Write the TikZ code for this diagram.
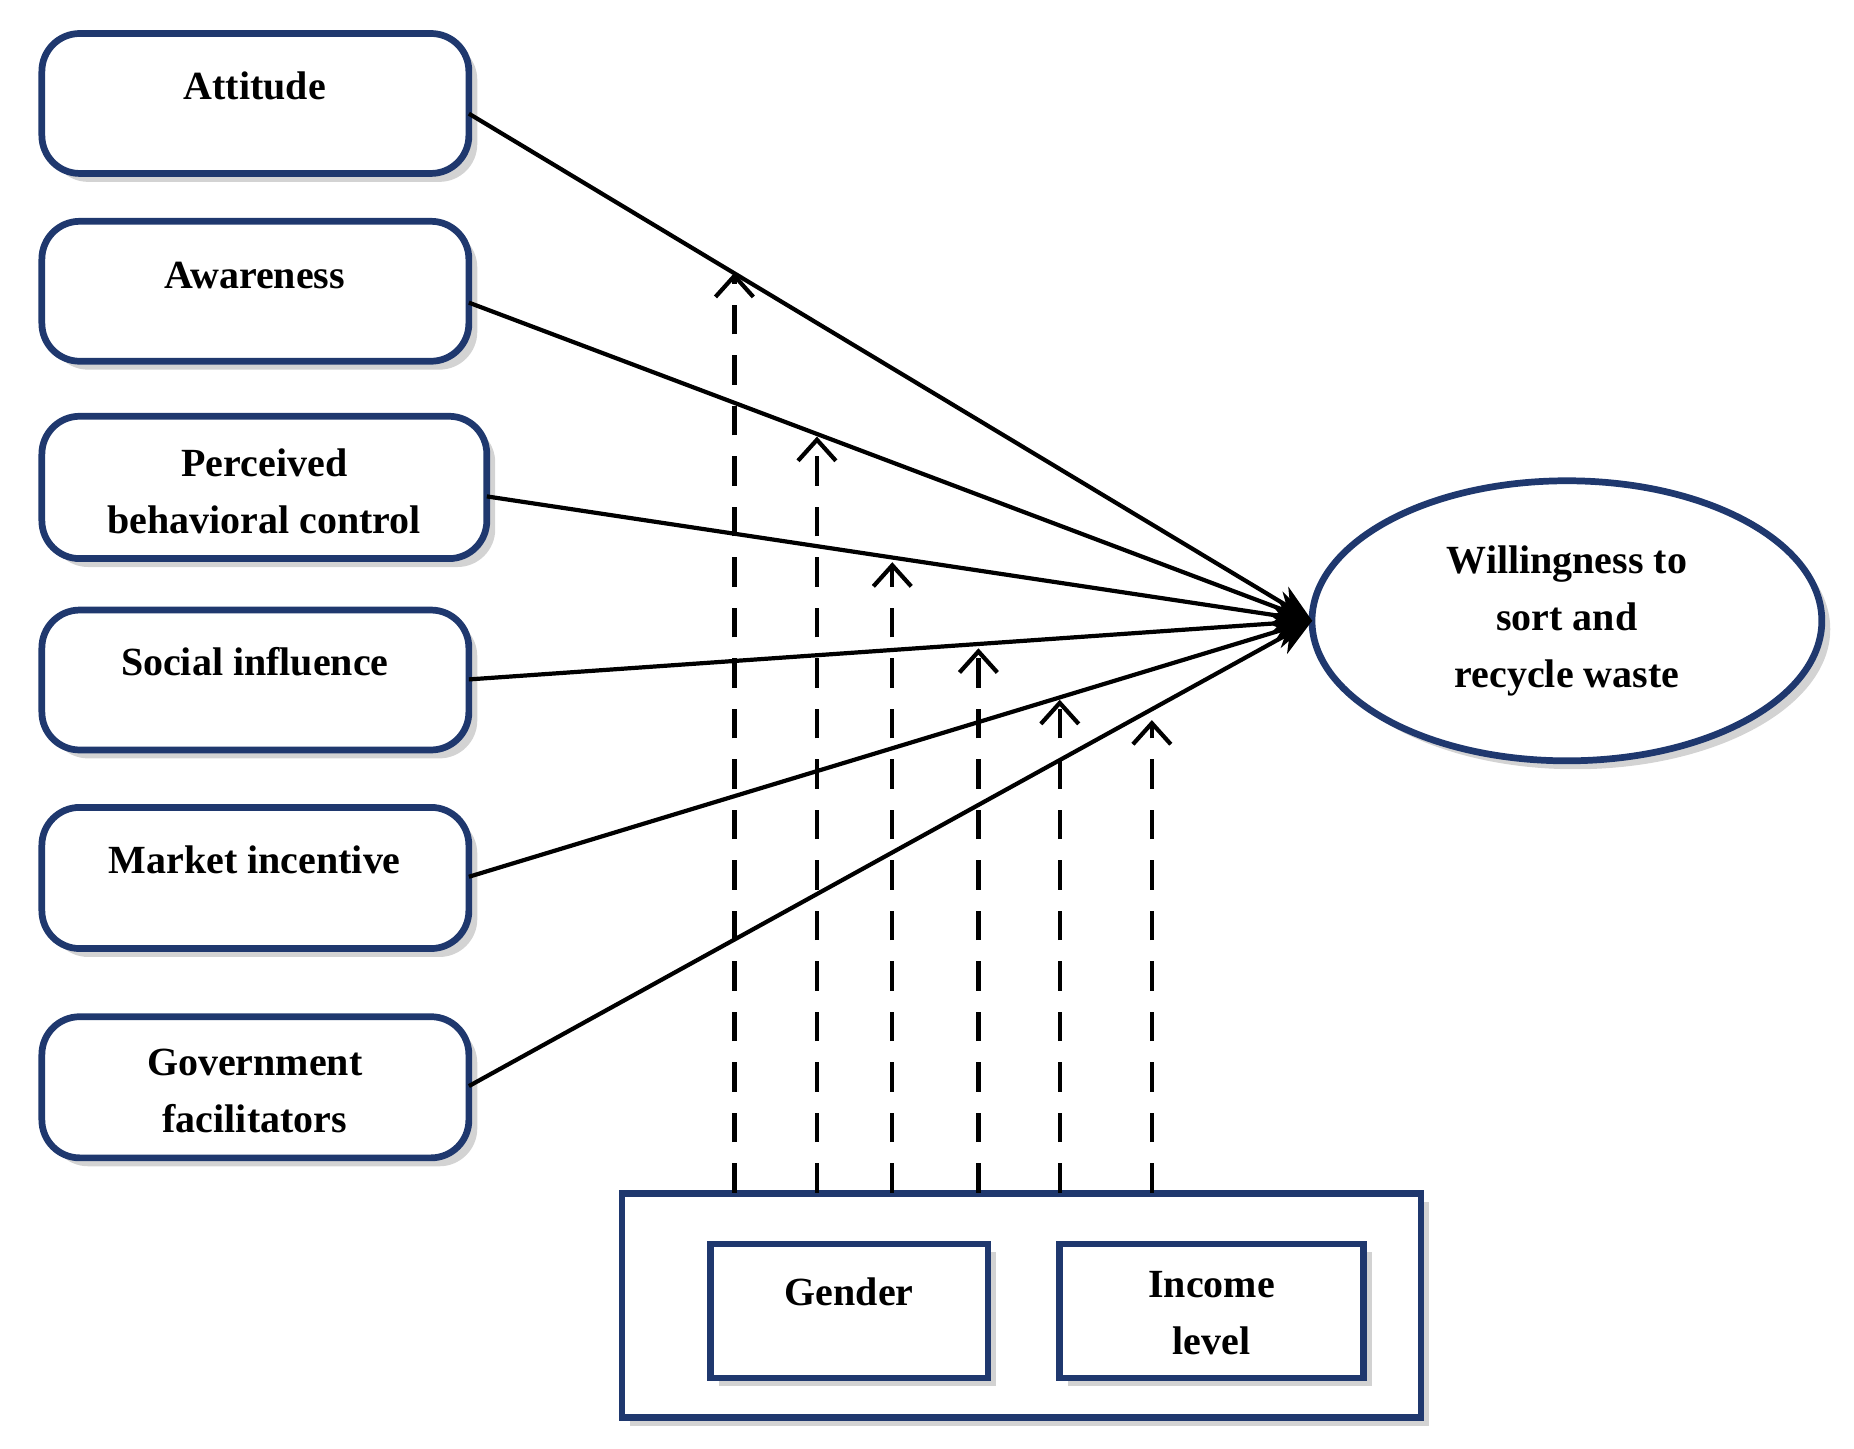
\documentclass[tikz,border=0pt]{standalone}
\usepackage{fontspec}
\setmainfont{Liberation Serif}
\usetikzlibrary{arrows.meta,shadows,shapes.geometric}
\definecolor{navy}{RGB}{31,56,110}
\begin{document}
\begin{tikzpicture}[x=0.01cm,y=-0.01cm,
  box/.style={draw=navy,line width=1.6pt,rounded corners=9pt,fill=white,drop shadow={opacity=0.35,shadow xshift=2pt,shadow yshift=-2pt}},
  sbox/.style={draw=navy,line width=1.6pt,fill=white,drop shadow={opacity=0.35,shadow xshift=2pt,shadow yshift=-2pt}},
  lbl/.style={font=\fontsize{9.5}{13.5}\selectfont\bfseries,align=center},
  link/.style={line width=1pt,-{Stealth[length=9pt,width=8pt]}},
  mod/.style={line width=1pt,dashed,dash pattern=on 7pt off 5pt,-{Straight Barb[length=5pt,width=9pt]}}]
\useasboundingbox (0,0) rectangle (1550,1211);
\draw[box] (35,28) rectangle (392,145);
\draw[box] (35,185) rectangle (392,302);
\draw[box] (35,348) rectangle (407,467);
\draw[box] (35,510) rectangle (392,627);
\draw[box] (35,675) rectangle (392,793);
\draw[box] (35,850) rectangle (392,968);
\node[lbl] (t1) at (213,72) {Attitude};
\node[lbl] (t2) at (213,230) {Awareness};
\node[lbl] (t3) at (221,411) {Perceived\\behavioral control};
\node[lbl] (t4) at (213,553) {Social influence};
\node[lbl] (t5) at (213,719) {Market incentive};
\node[lbl] (t6) at (213,912) {Government\\facilitators};
\node[draw=navy,line width=1.6pt,ellipse,minimum width=4.26cm,minimum height=2.34cm,fill=white,drop shadow={opacity=0.35,shadow xshift=2pt,shadow yshift=-2pt},lbl] (w) at (1310,519) {Willingness to\\sort and\\recycle waste};
\coordinate (tip) at (1097,519);
\coordinate (a1) at (392,95);
\coordinate (a2) at (392,253);
\coordinate (a3) at (407,415);
\coordinate (a4) at (392,568);
\coordinate (a5) at (392,733);
\coordinate (a6) at (392,908);
\foreach \i in {1,...,6} \draw[link] (a\i) -- (tip);
\draw[sbox] (520,998) rectangle (1188,1185);
\draw[sbox] (594,1040) rectangle (826,1152);
\draw[sbox] (886,1040) rectangle (1140,1152);
\node[lbl] (g) at (710,1080) {Gender};
\node[lbl] (inc) at (1013,1098) {Income\\level};
\foreach \x/\y [count=\k] in {614/228,683/365,746/470,818/542,886/585,963/602}{
  \coordinate (s\k) at (\x,997); \coordinate (e\k) at (\x,\y);
  \draw[mod] (s\k) -- (e\k);}
\end{tikzpicture}
\end{document}
